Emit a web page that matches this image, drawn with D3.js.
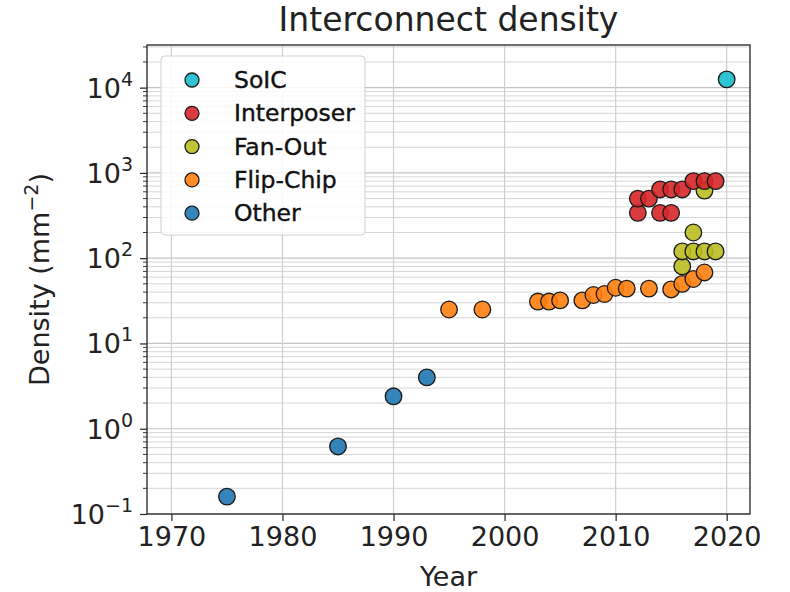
<!DOCTYPE html>
<html>
<head>
<meta charset="utf-8">
<script src="https://cdn.jsdelivr.net/npm/d3@7"></script>
<style>
  html, body { margin: 0; padding: 0; background: #fff; }
  svg { display: block; font-family: "DejaVu Sans", sans-serif; }
</style>
</head>
<body>
<svg id="chart" width="790" height="592"></svg>
<script>
// Interconnect density by packaging technology (per mm^2, log scale)
const seriesNames = ["SoIC", "Interposer", "Fan-Out", "Flip-Chip", "Other"];
const seriesColors = ["#17becf", "#d62728", "#bcbd22", "#ff7f0e", "#1f77b4"];

const otherYears = [1975, 1985, 1990, 1993];
const otherDensity = [0.16, 0.62, 2.4, 4.0];

const flipChipYears = [1995, 1998, 2003, 2004, 2005, 2007, 2008, 2009, 2010, 2011, 2013, 2015, 2016, 2017, 2018];
const flipChipDensity = [25, 25, 31, 31, 32, 32, 37, 38, 45, 44, 44, 43, 50, 57, 68];

const fanOutYears = [2016, 2016, 2017, 2017, 2018, 2018, 2019];
const fanOutDensity = [80, 120, 200, 120, 120, 620, 120];

const interposerYears = [2012, 2012, 2013, 2014, 2014, 2015, 2015, 2016, 2017, 2018, 2019];
const interposerDensity = [340, 500, 500, 340, 640, 340, 640, 640, 800, 800, 800];

const soicYears = [2020];
const soicDensity = [12500];

const xTicks = [1970, 1980, 1990, 2000, 2010, 2020];
const yExponents = [-1, 0, 1, 2, 3, 4];

// drawing order: earliest technologies first so later ones sit on top
const layers = [
  { name: "Other", years: otherYears, values: otherDensity },
  { name: "Flip-Chip", years: flipChipYears, values: flipChipDensity },
  { name: "Fan-Out", years: fanOutYears, values: fanOutDensity },
  { name: "Interposer", years: interposerYears, values: interposerDensity },
  { name: "SoIC", years: soicYears, values: soicDensity }
];

const color = d3.scaleOrdinal().domain(seriesNames).range(seriesColors);

const plotLeft = 147, plotRight = 750, plotTop = 45, plotBottom = 514;
const x = d3.scaleLinear().domain([1967.8, 2022.1]).range([plotLeft, plotRight]);
const y = d3.scaleLog().domain([0.1, Math.pow(10, 4.5)]).range([plotBottom, plotTop]);

const svg = d3.select("#chart");

// minor values on the log axis (2..9 per decade)
const minorVals = [];
for (let e = -1; e <= 4; e++) {
  for (let m = 2; m <= 9; m++) {
    const v = m * Math.pow(10, e);
    if (v <= y.domain()[1]) minorVals.push(v);
  }
}

// grid
const grid = svg.append("g");
grid.selectAll("line.minor").data(minorVals).join("line")
  .attr("x1", plotLeft).attr("x2", plotRight)
  .attr("y1", d => y(d)).attr("y2", d => y(d))
  .attr("stroke", "#d6d6d6").attr("stroke-width", 1);
grid.selectAll("line.majy").data(yExponents.map(e => Math.pow(10, e))).join("line")
  .attr("x1", plotLeft).attr("x2", plotRight)
  .attr("y1", d => y(d)).attr("y2", d => y(d))
  .attr("stroke", "#c4c4c4").attr("stroke-width", 1.2);
grid.selectAll("line.majx").data(xTicks).join("line")
  .attr("x1", d => x(d)).attr("x2", d => x(d))
  .attr("y1", plotTop).attr("y2", plotBottom)
  .attr("stroke", "#cfcfcf").attr("stroke-width", 1.2);

// axes
const xAxis = d3.axisBottom(x).tickValues(xTicks).tickFormat(d3.format("d"))
  .tickSize(7).tickPadding(6);
const gx = svg.append("g").attr("transform", `translate(0,${plotBottom})`).call(xAxis);
gx.select(".domain").remove();
gx.selectAll("text").attr("font-size", 27).attr("fill", "#222")
  .attr("font-family", "DejaVu Sans, sans-serif");
gx.selectAll("line").attr("stroke", "#222").attr("stroke-width", 1.2);

const yAxis = d3.axisLeft(y).tickValues(yExponents.map(e => Math.pow(10, e)))
  .tickSize(7).tickPadding(6).tickFormat("");
const gy = svg.append("g").attr("transform", `translate(${plotLeft},0)`).call(yAxis);
gy.select(".domain").remove();
gy.selectAll("line").attr("stroke", "#222").attr("stroke-width", 1.2);

svg.append("g").selectAll("line").data(minorVals).join("line")
  .attr("x1", plotLeft - 4).attr("x2", plotLeft)
  .attr("y1", d => y(d)).attr("y2", d => y(d))
  .attr("stroke", "#222").attr("stroke-width", 0.9);

// y tick labels as 10^n with superscripts
const ylab = svg.append("g").selectAll("text").data(yExponents).join("text")
  .attr("x", plotLeft - 14)
  .attr("y", d => y(Math.pow(10, d)) + 10)
  .attr("text-anchor", "end")
  .attr("font-size", 27)
  .attr("fill", "#222");
ylab.append("tspan").text("10");
ylab.append("tspan").attr("dy", -12).attr("font-size", 19)
  .text(d => d < 0 ? "\u2212" + Math.abs(d) : String(d));

// frame
svg.append("rect").attr("x", plotLeft).attr("y", plotTop)
  .attr("width", plotRight - plotLeft).attr("height", plotBottom - plotTop)
  .attr("fill", "none").attr("stroke", "#222").attr("stroke-width", 1.3);

// points
const plot = svg.append("g");
layers.forEach(layer => {
  plot.append("g").selectAll("circle")
    .data(layer.years.map((yr, i) => ({ yr, v: layer.values[i] })))
    .join("circle")
    .attr("cx", d => x(d.yr))
    .attr("cy", d => y(d.v))
    .attr("r", 8.3)
    .attr("fill", color(layer.name))
    .attr("fill-opacity", 0.9)
    .attr("stroke", "#1a1a1a")
    .attr("stroke-width", 1.3);
});

// legend
const lg = svg.append("g");
lg.append("rect").attr("x", 161).attr("y", 56).attr("width", 204).attr("height", 179)
  .attr("rx", 4).attr("fill", "#fff").attr("fill-opacity", 0.85)
  .attr("stroke", "#d0d0d0").attr("stroke-width", 1);
seriesNames.forEach((name, i) => {
  const cy = 80 + i * 33.3;
  lg.append("circle").attr("cx", 192).attr("cy", cy).attr("r", 7)
    .attr("fill", color(name)).attr("fill-opacity", 0.9)
    .attr("stroke", "#1a1a1a").attr("stroke-width", 1.3);
  lg.append("text").attr("x", 234).attr("y", cy + 8)
    .attr("font-size", 23.5).attr("fill", "#111")
    .attr("stroke", "#111").attr("stroke-width", 0.4)
    .text(name);
});

// title and axis labels
svg.append("text").attr("x", (plotLeft + plotRight) / 2).attr("y", 31)
  .attr("text-anchor", "middle").attr("font-size", 33).attr("fill", "#222")
  .text("Interconnect density");
svg.append("text").attr("x", (plotLeft + plotRight) / 2).attr("y", 586)
  .attr("text-anchor", "middle").attr("font-size", 27).attr("fill", "#222")
  .text("Year");
const yt = svg.append("text")
  .attr("transform", `translate(49,${(plotTop + plotBottom) / 2}) rotate(-90)`)
  .attr("text-anchor", "middle").attr("font-size", 27).attr("fill", "#222");
yt.append("tspan").text("Density (mm");
yt.append("tspan").attr("dy", -11).attr("font-size", 19).text("\u22122");
yt.append("tspan").attr("dy", 11).text(")");
</script>
</body>
</html>
